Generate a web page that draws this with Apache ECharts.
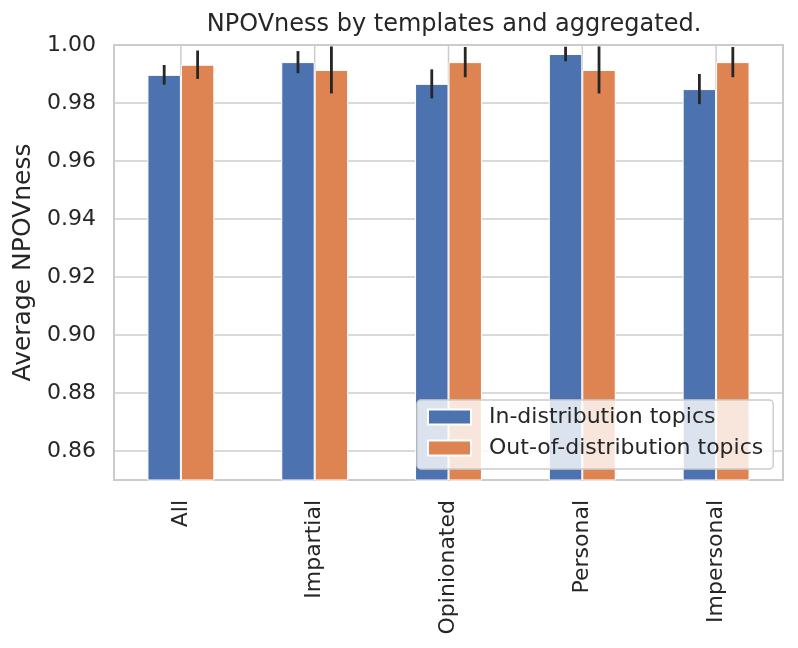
<!DOCTYPE html>
<html>
<head>
<meta charset="utf-8">
<script src="https://cdn.jsdelivr.net/npm/echarts@6/dist/echarts.min.js"></script>
<style>
html,body{margin:0;padding:0;background:#fff;}
#chart{width:798px;height:648px;}
</style>
</head>
<body>
<div id="chart"></div>
<script>
const categories = ['All', 'Impartial', 'Opinionated', 'Personal', 'Impersonal'];
const inDist = [0.9897, 0.9941, 0.9866, 0.9969, 0.9848];
const outDist = [0.9932, 0.9914, 0.9941, 0.9914, 0.9941];
const inErr = [0.0034, 0.0038, 0.0050, 0.0025, 0.0052];
const outErr = [0.0049, 0.0081, 0.0052, 0.0081, 0.0052];
const seriesNames = ['In-distribution topics', 'Out-of-distribution topics'];
const yMin = 0.85, yMax = 1.0;

const FONT = 'DejaVu Sans';
const TXT = '#262626';

function errSeries(vals, errs, side) {
  return {
    type: 'custom',
    z: 5,
    silent: true,
    data: vals.map((v, i) => [i, v - errs[i], v + errs[i]]),
    renderItem: function (params, api) {
      const band = api.size([1, 0])[0];
      const cx = api.coord([api.value(0), yMin])[0] + side * band * 0.125;
      const lo = Math.max(api.value(1), yMin);
      const hi = Math.min(api.value(2), yMax);
      const p1 = api.coord([api.value(0), lo]);
      const p2 = api.coord([api.value(0), hi]);
      return {
        type: 'line',
        shape: { x1: cx, y1: p1[1], x2: cx, y2: p2[1] },
        style: { stroke: '#262626', lineWidth: 2.8 }
      };
    }
  };
}

const chart = echarts.init(document.getElementById('chart'), null, { renderer: 'canvas' });
chart.setOption({
  animation: false,
  backgroundColor: '#ffffff',
  textStyle: { fontFamily: FONT },
  title: {
    text: 'NPOVness by templates and aggregated.',
    left: 449, textAlign: 'center', top: 8,
    textStyle: { fontFamily: FONT, fontSize: 24, fontWeight: 'normal', color: TXT }
  },
  grid: {
    left: 114, right: 15, top: 45, bottom: 168,
    show: true, borderColor: '#cccccc', borderWidth: 2, backgroundColor: 'transparent'
  },
  legend: {
    data: seriesNames,
    orient: 'vertical',
    left: 417, top: 400,
    backgroundColor: 'rgba(255,255,255,0.8)',
    borderColor: '#cccccc', borderWidth: 1.5, borderRadius: 4,
    padding: [6, 10, 10, 10],
    itemWidth: 43, itemHeight: 15, itemGap: 9,
    icon: 'rect',
    formatter: '{t|{name}}',
    textStyle: {
      fontFamily: FONT, fontSize: 22, color: TXT, lineHeight: 22,
      rich: { t: { fontFamily: FONT, fontSize: 22, color: TXT, lineHeight: 22, padding: [0, 0, 0, 13] } }
    }
  },
  xAxis: {
    type: 'category',
    data: categories,
    axisLine: { show: false },
    axisTick: { show: false },
    splitLine: { show: false },
    axisLabel: { rotate: 90, margin: 20, fontFamily: FONT, fontSize: 22, color: TXT }
  },
  yAxis: {
    type: 'value',
    min: yMin, max: yMax,
    splitNumber: 7,
    name: 'Average NPOVness',
    nameLocation: 'middle',
    nameGap: 73,
    nameTextStyle: { fontFamily: FONT, fontSize: 25, color: TXT },
    axisLine: { show: false },
    axisTick: { show: false },
    splitLine: { show: true, lineStyle: { color: '#cccccc', width: 1.5 } },
    axisLabel: {
      margin: 18, fontFamily: FONT, fontSize: 22, color: TXT,
      showMinLabel: false,
      formatter: v => v.toFixed(2)
    }
  },
  series: [
    {
      type: 'custom',
      z: 1,
      silent: true,
      data: categories.map((c, i) => [i]),
      renderItem: function (params, api) {
        const x = api.coord([api.value(0), yMin])[0];
        const cs = params.coordSys;
        return {
          type: 'line',
          shape: { x1: x, y1: cs.y, x2: x, y2: cs.y + cs.height },
          style: { stroke: '#cccccc', lineWidth: 1.5 }
        };
      }
    },
    {
      name: seriesNames[0], type: 'bar', data: inDist, z: 2,
      barWidth: '25%', barGap: '0%',
      itemStyle: { color: '#4c72b0', borderColor: '#ffffff', borderWidth: 1 }
    },
    {
      name: seriesNames[1], type: 'bar', data: outDist, z: 2,
      barWidth: '25%', barGap: '0%',
      itemStyle: { color: '#dd8452', borderColor: '#ffffff', borderWidth: 1 }
    },
    errSeries(inDist, inErr, -1),
    errSeries(outDist, outErr, 1)
  ]
});
</script>
</body>
</html>
